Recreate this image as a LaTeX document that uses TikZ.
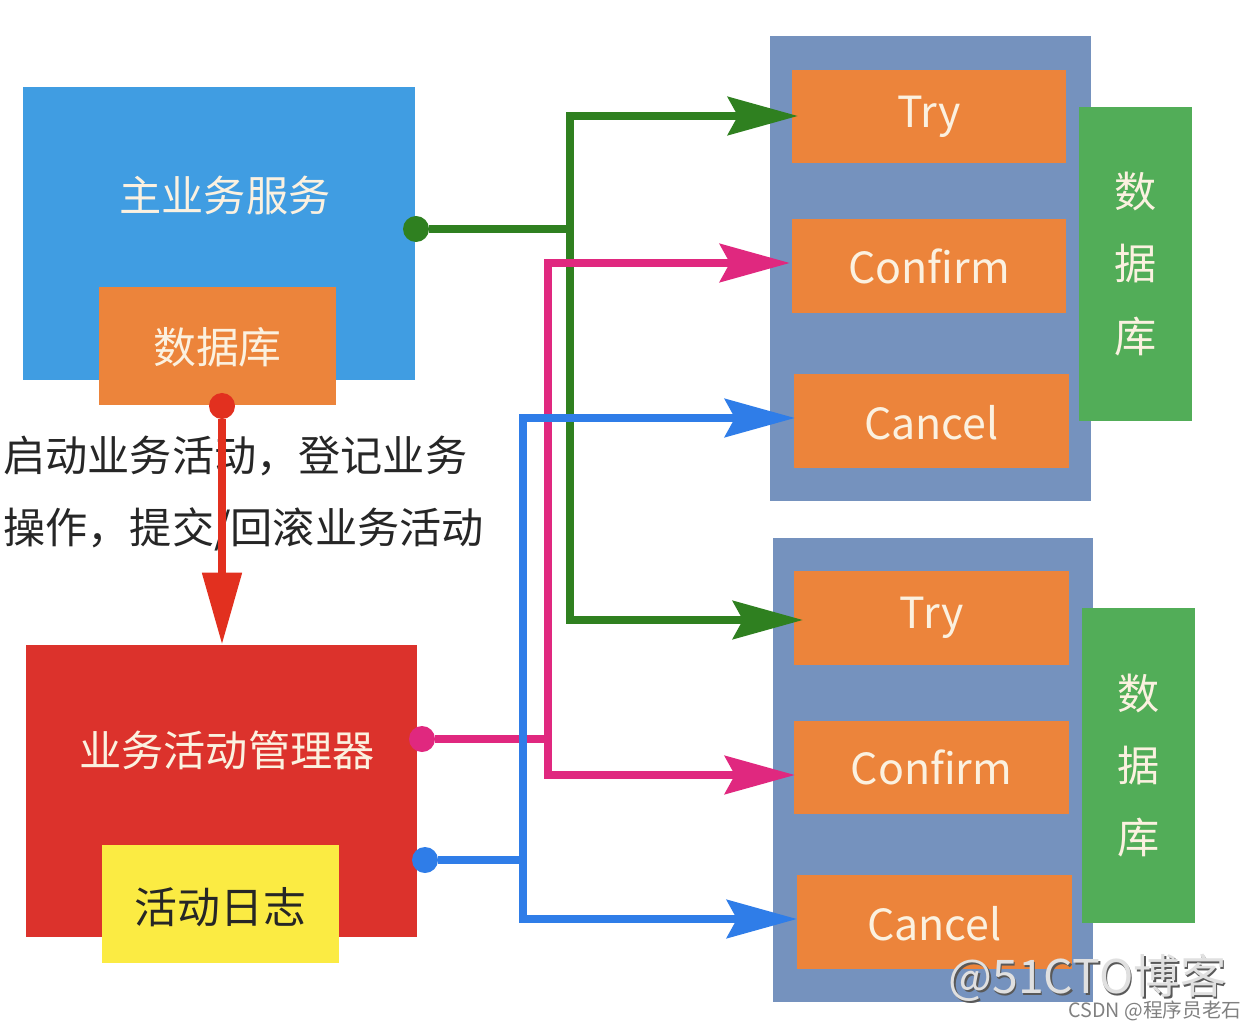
\documentclass[tikz,border=0pt]{standalone}
\usepackage{fontspec}
\setmainfont{Noto Sans CJK SC}
\usetikzlibrary{arrows.meta}
\definecolor{mainblue}{HTML}{409DE2}
\definecolor{boxorange}{HTML}{EC843B}
\definecolor{mgrred}{HTML}{DC322C}
\definecolor{logyellow}{HTML}{FBEB43}
\definecolor{panelblue}{HTML}{7592BE}
\definecolor{dbgreen}{HTML}{52AD58}
\definecolor{creamtext}{HTML}{FBF1E0}
\definecolor{linegreen}{HTML}{2F8020}
\definecolor{linepink}{HTML}{E0287F}
\definecolor{lineblue}{HTML}{2F7DE8}
\definecolor{linered}{HTML}{E2301F}
\begin{document}
\begin{tikzpicture}[x=0.025cm,y=-0.025cm,
            block/.style = {inner sep=0pt,
                minimum width = 9.8cm,
                minimum height = 7.3cm,
                },
            smallblock/.style = {inner sep=0pt,
                minimum width = 5.925cm,
                minimum height = 2.95cm,
                font=\fontsize{30.5}{36}\selectfont,
                },
            panel/.style = {fill=panelblue,inner sep=0pt,
                minimum width = 8cm,
                minimum height = 11.6cm,
                },
            phase/.style = {fill=boxorange,text=creamtext,inner sep=0pt,
                minimum width = 6.85cm,
                minimum height = 2.34cm,
                font=\fontsize{30.5}{36}\selectfont,
                },
            dbcol/.style = {fill=dbgreen,text=creamtext,inner sep=0pt,align=center,
                minimum width = 2.825cm,
                minimum height = 7.85cm,
                font=\fontsize{30}{51.4}\selectfont,
                },
            title/.style = {text=creamtext,inner sep=0pt,
                font=\fontsize{30}{36}\selectfont,
                },
            note/.style = {anchor=west,text=black!85,inner sep=0pt,
                font=\fontsize{30}{36}\selectfont,
                },
            dot/.style = {circle,inner sep=0pt,minimum size = 0.65cm},
            flow/.style = {line width=2.05mm,
                -{Stealth[length=1.75cm,width=0.95cm,inset=0.25cm]}},
            link/.style = {line width=2.05mm},
            mark51/.style = {inner sep=0pt,font=\fontsize{33}{40}\selectfont},
            ]
        \useasboundingbox (0,0) rectangle (1257,1030);

        % Main service
        \node[block,fill=mainblue] (main) at (219,233.5) {};
        \node[title] (maintitle) at (225,195) {主业务服务};
        \node[smallblock,fill=boxorange,text=creamtext,text height=28pt] (maindb) at (217.5,346) {数据库};

        % Activity manager
        \node[block,fill=mgrred,minimum width=9.775cm] (mgr) at (221.5,791) {};
        \node[title] (mgrtitle) at (227,750) {业务活动管理器};
        \node[smallblock,fill=logyellow,text=black!85,text height=30pt] (mgrlog) at (220.5,904) {活动日志\hspace{4pt}};

        % First service
        \node[panel] (panelA) at (930.5,268.5) {};
        \node[phase] (tryA) at (929,116.5) {Try};
        \node[phase] (confirmA) at (929,266) {Confirm};
        \node[phase,text height=26pt] (cancelA) at (931.5,421) {Cancel};
        \node[dbcol] (dbA) at (1135.5,264) {数\\据\\库};

        % Second service
        \node[panel] (panelB) at (933,770) {};
        \node[phase] (tryB) at (931.5,618) {Try};
        \node[phase] (confirmB) at (931.5,767.5) {Confirm};
        \node[phase,text height=26pt] (cancelB) at (934.5,922) {Cancel};
        \node[dbcol] (dbB) at (1138.5,765.5) {数\\据\\库};

        % Note
        \node[note] (noteA) at (3,456) {启动业务活动^^^^ff0c登记业务};
        \node[note] (noteB) at (3,529) {操作^^^^ff0c提交/回滚业务活动};

        % Start points
        \node[dot,fill=linered] (startred) at (222,406) {};
        \node[dot,fill=linegreen] (startgreen) at (416,229) {};
        \node[dot,fill=linepink] (startpink) at (422,739) {};
        \node[dot,fill=lineblue] (startblue) at (425,860) {};

        % Forks and arrow ends
        \coordinate (forkgreen) at (570,229);
        \coordinate (forkpink) at (548,739);
        \coordinate (forkblue) at (523,860);
        \coordinate (endtryA) at (798,116);
        \coordinate (endtryB) at (803,620);
        \coordinate (endconfirmA) at (790,263);
        \coordinate (endconfirmB) at (795,775);
        \coordinate (endcancelA) at (795,418);
        \coordinate (endcancelB) at (797,919);

        % Green lines
        \draw[link,linegreen] (startgreen) -- (forkgreen);
        \draw[flow,linegreen] (forkgreen) |- (endtryA);
        \draw[flow,linegreen] (forkgreen) |- (endtryB);

        % Pink lines
        \draw[link,linepink] (startpink) -- (forkpink);
        \draw[flow,linepink] (forkpink) |- (endconfirmA);
        \draw[flow,linepink] (forkpink) |- (endconfirmB);

        % Blue lines
        \draw[link,lineblue] (startblue) -- (forkblue);
        \draw[flow,lineblue] (forkblue) |- (endcancelA);
        \draw[flow,lineblue] (forkblue) |- (endcancelB);

        % Red line
        \draw[linered,line width=2.05mm,-{Stealth[length=1.8cm,width=0.95cm,inset=0pt]}] (startred) -- (mgr.north -| startred);

        % Watermarks
        \node[mark51,text=black!65] (markshadow) at (1089,980) {@51CTO博客};
        \node[mark51,text=white!88!black] (marktext) at (1087.5,978) {@51CTO博客};
        \node[inner sep=0pt,text=black!50,font=\fontsize{14}{18}\selectfont] (csdn) at (1155,1011) {CSDN @程序员老石};

        \end{tikzpicture}
\end{document}
